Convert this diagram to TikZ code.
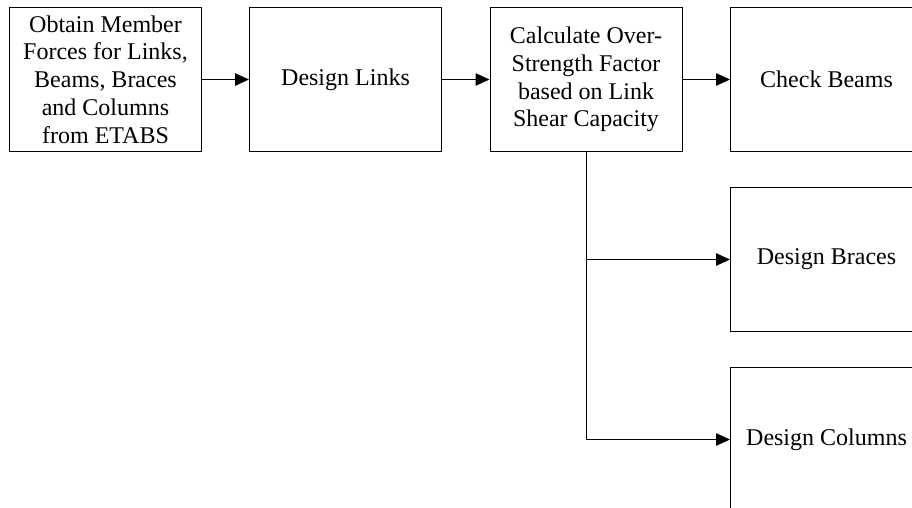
\documentclass[tikz,border=0pt]{standalone}
\usepackage{fontspec}
\setmainfont{Liberation Serif}
\usetikzlibrary{arrows.meta}
\begin{document}
\begin{tikzpicture}[x=1pt,y=-1pt,
  stepbox/.style={draw=black, line width=1pt, minimum width=192pt, minimum height=144pt,
    inner sep=0pt, align=center, font=\fontsize{24}{27.8}\selectfont},
  flow/.style={line width=1pt, -{Triangle[length=14pt,width=12.5pt]}}]
  % page frame
  \useasboundingbox (0,0) rectangle (912,508);
  \clip (0,0) rectangle (912,508);
  \fill[white] (0,0) rectangle (912,508);

  % process boxes
  \node[stepbox] (forces)  at (105.5,79.5) {Obtain Member\\Forces for Links,\\Beams, Braces\\and Columns\\from ETABS};
  \node[stepbox] (links)   at (345.5,79.5) {Design Links};
  \node[stepbox] (omega)   at (586,79.5)   {Calculate Over-\\Strength Factor\\based on Link\\Shear Capacity};
  \node[stepbox] (beams)   at (826.5,79.5) {Check Beams};
  \node[stepbox] (braces)  at (826.5,259.5) {Design Braces};
  \node[stepbox] (columns) at (826.5,439.5) {Design Columns};

  % connectors
  \draw[flow] (forces.east) -- (links.west);
  \draw[flow] (links.east) -- (omega.west);
  \draw[flow] (omega.east) -- (beams.west);
  \draw[flow] (omega.south) |- (braces.west);
  \draw[flow] (omega.south) |- (columns.west);
\end{tikzpicture}
\end{document}
